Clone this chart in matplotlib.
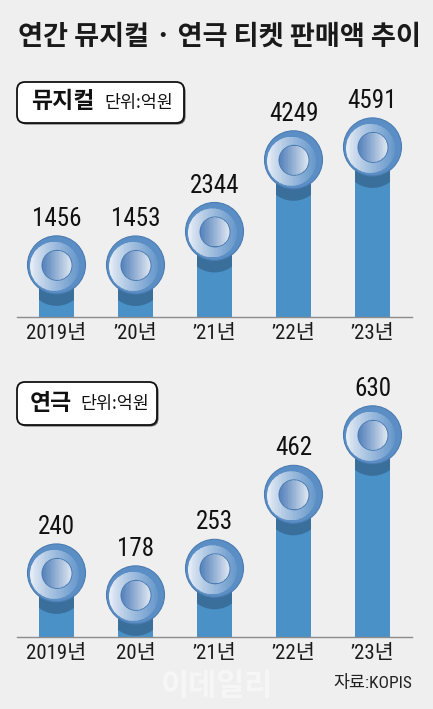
import matplotlib
matplotlib.use('Agg')
import matplotlib.pyplot as plt
import numpy as np
from matplotlib import font_manager
from matplotlib.patches import Circle, Rectangle, FancyBboxPatch
from matplotlib.transforms import Affine2D, ScaledTranslation, IdentityTransform
from matplotlib.colors import to_rgb

# ---------------- data ----------------
title_text = '연간 뮤지컬 · 연극 티켓 판매액 추이'
musical_labels = ['2019년', '’20년', '’21년', '’22년', '’23년']
musical_values = [1456, 1453, 2344, 4249, 4591]
play_labels = ['2019년', '20년', '’21년', '’22년', '’23년']
play_values = [240, 178, 253, 462, 630]
musical_title = '뮤지컬'
play_title = '연극'
unit_text = '단위:억원'
source_text = '자료:KOPIS'
watermark_text = '이데일리'

# ---------------- fonts ----------------
names = {f.name for f in font_manager.fontManager.ttflist}
narrow = 'Roboto Condensed' if 'Roboto Condensed' in names else 'Roboto'
CJK = 'Noto Sans CJK KR'
NARROW = [narrow, CJK, 'DejaVu Sans']

# ---------------- style ----------------
W, H = 433, 709
BG = '#efefef'
BAR = '#4a91c8'
SHADOW = '#3a6f9b'
RING = '#5a8ec5'
RING_EDGE = '#4b7cb2'

fig = plt.figure(figsize=(W / 100, H / 100), dpi=100, facecolor=BG)


def px_axes(left, top, right, bottom):
    return fig.add_axes([left / W, 1 - bottom / H, (right - left) / W, (bottom - top) / H])


def grad_disc(ax, base, cx, cy, r, c_left, c_right, z, n=36, gamma=1.0):
    clip = Circle((cx, cy), r, transform=base)
    cl = np.array(to_rgb(c_left))
    cr = np.array(to_rgb(c_right))
    edges = np.linspace(cx - r, cx + r, n + 1)
    for i in range(n):
        t = ((i + 0.5) / n) ** gamma
        col = cl * (1 - t) + cr * t
        rect = Rectangle((edges[i], cy - r), edges[i + 1] - edges[i] + 0.6, 2 * r,
                         transform=base, fc=col, ec='none', zorder=z)
        ax.add_patch(rect)
        rect.set_clip_path(clip)


def coin(ax, x, y, bar_patch):
    base = ScaledTranslation(x, y, ax.transData)
    tr = Affine2D() + base
    R = 29
    sh = Circle((0, -12), R, transform=tr, fc=SHADOW, ec='none', zorder=3)
    ax.add_patch(sh)
    sh.set_clip_path(bar_patch)
    outer = Circle((0, 0), R, transform=tr, fc=RING, ec=RING_EDGE, lw=0.8, zorder=4, clip_on=False)
    ax.add_patch(outer)
    grad_disc(ax, tr, -2.0, -1.5, 24.5, '#f1f4f9', '#6697cb', 5, gamma=0.75)
    inner_edge = Circle((0.5, -0.5), 15.5, transform=tr, fc='#4c7cb2', ec='none', zorder=6, clip_on=False)
    ax.add_patch(inner_edge)
    grad_disc(ax, tr, 0.5, -0.5, 14.5, '#5784bc', '#e0e8f2', 7, gamma=1.1)


def panel(ax, labels, values, ylim):
    x = np.arange(len(values))
    bars = ax.bar(x, values, width=0.455, color=BAR, zorder=2)
    ax.set_xlim(-0.5, len(values) - 0.5)
    ax.set_ylim(*ylim)
    ax.patch.set_visible(False)
    for s in ['top', 'right', 'left']:
        ax.spines[s].set_visible(False)
    ax.spines['bottom'].set_color('#8c8c8c')
    ax.spines['bottom'].set_linewidth(1.0)
    ax.spines['bottom'].set_zorder(8)
    ax.set_yticks([])
    ax.set_xticks(x)
    ax.set_xticklabels(labels, fontsize=15, family=NARROW, color='#1a1a1a')
    ax.tick_params(axis='x', length=0, pad=5)
    for xi, v, b in zip(x, values, bars):
        coin(ax, xi, v, b)
        ax.annotate(f'{v}', (xi, v), xytext=(0, 33), textcoords='offset points',
                    ha='center', va='center', fontsize=18, family=NARROW,
                    color='#111111', zorder=9, annotation_clip=False)


ax1 = px_axes(17, 80, 412, 317)
panel(ax1, musical_labels, musical_values, (70, 6370))
ax2 = px_axes(17, 375, 412, 637)
panel(ax2, play_labels, play_values, (59, 799))


def label_box(left, top, right, bottom, title, tx, ux, ty):
    yb = H - bottom
    w = right - left
    h = bottom - top
    shadow = FancyBboxPatch((left + 1.5, yb - 1.5), w, h, boxstyle='round,pad=0,rounding_size=8',
                            transform=IdentityTransform(), fc='#555555', ec='none', zorder=1)
    box = FancyBboxPatch((left, yb), w, h, boxstyle='round,pad=0,rounding_size=8',
                         transform=IdentityTransform(), fc='white', ec='#111111', lw=1.3, zorder=2)
    fig.add_artist(shadow)
    fig.add_artist(box)
    fig.text(tx / W, 1 - ty / H, title, fontsize=16.5, weight='bold', family=CJK,
             ha='left', va='center', color='#111111', zorder=3)
    fig.text(ux / W, 1 - (ty + 1) / H, unit_text, fontsize=12.5, family=CJK,
             ha='left', va='center', color='#111111', zorder=3)


label_box(17, 82, 184, 123, musical_title, 31, 104, 102)
label_box(17, 382, 157, 425, play_title, 30, 80, 403)

fig.text(18 / W, 1 - 37 / H, title_text, fontsize=19.6, weight='bold', family=CJK,
         ha='left', va='center', color='#1a1a1a')

fig.text(412 / W, 1 - 683 / H, source_text, fontsize=12.5, family=NARROW,
         ha='right', va='center', color='#222222')

fig.text(217 / W, 1 - 686 / H, watermark_text, fontsize=22, weight='bold', family=CJK,
         ha='center', va='center', color='white', alpha=0.45, zorder=0)

fig.savefig('out.png', dpi=100, facecolor=BG)
